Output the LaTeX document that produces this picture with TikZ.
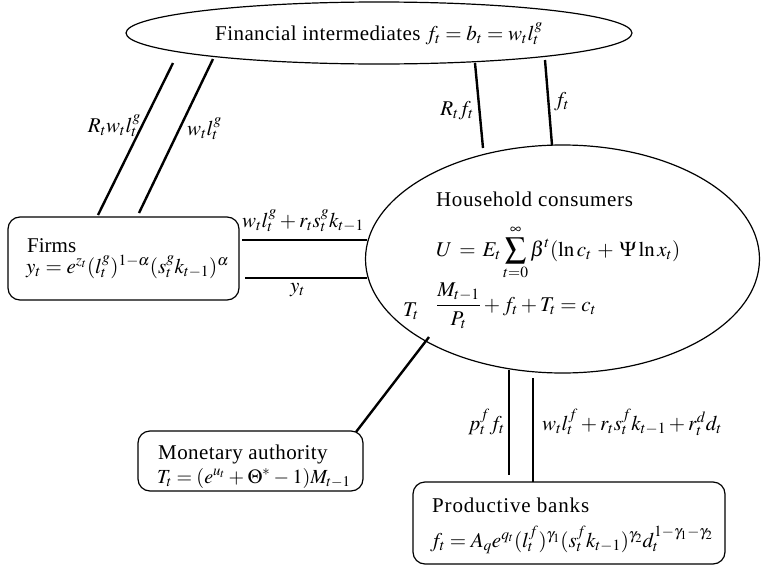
\documentclass[tikz,border=0pt]{standalone}
\usepackage{mathptmx}
\usepackage[no-math]{fontspec}
\setmainfont{Liberation Serif}
\usetikzlibrary{shapes.geometric}
\tikzset{
  shapeline/.style={draw=black, line width=1.2pt},
  conn/.style={draw=black, line width=2.4pt},
  txt/.style={anchor=base west, inner sep=0pt, font=\fontsize{21}{25}\selectfont},
  txtr/.style={anchor=base east, inner sep=0pt, font=\fontsize{21}{25}\selectfont},
  txtc/.style={anchor=base, inner sep=0pt, font=\fontsize{21}{25}\selectfont},
  roundbox/.style={shapeline, rectangle, rounded corners=12pt, inner sep=0pt},
  ellnode/.style={shapeline, ellipse, inner sep=0pt}
}
\begin{document}
\begin{tikzpicture}[x=1pt, y=-1pt]
\useasboundingbox (0,0) rectangle (761,568);
% shapes
\node[ellnode, minimum width=506pt, minimum height=62pt] (fin) at (379,33) {};
\node[ellnode, minimum width=394pt, minimum height=228pt] (house) at (562.5,259) {};
\node[roundbox, minimum width=231pt, minimum height=83pt] (firms) at (123.5,258.5) {};
\node[roundbox, minimum width=225pt, minimum height=60pt] (mon) at (250.5,461) {};
\node[roundbox, minimum width=312pt, minimum height=82pt] (banks) at (569,523) {};
% texts
\node[txtc] (fintxt) at (379,40) {{\addfontfeature{LetterSpace=2}Financial intermediates} $f_t = b_t = w_t l_t^g$};
\node[txt] (firmstxt) at (27,252) {Firms};
\node[txt] (firmseq) at (26,273) {$y_t = e^{z_t}(l_t^g)^{1-\alpha}(s_t^g k_{t-1})^{\alpha}$};
\node[txt] (housetxt) at (436,206) {\addfontfeature{LetterSpace=3}Household consumers};
\node[txt] (houseeq1) at (436,256) {$\thickmuskip=6mu\medmuskip=5mu\displaystyle U = E_t \sum_{t=0}^{\infty} \beta^t (\ln c_t + \Psi \ln x_t)$};
\node[txt] (houseeq2) at (436,311) {$\displaystyle \frac{M_{t-1}}{P_t} + f_t + T_t = c_t$};
\node[txt] (montxt) at (158,459) {\addfontfeature{LetterSpace=2}Monetary authority};
\node[txt, font=\fontsize{20}{24}\selectfont] (moneq) at (157,483) {$\thickmuskip=4mu\medmuskip=3mu T_t = (e^{u_t} + \Theta^* - 1) M_{t-1}$};
\node[txt] (bankstxt) at (432,512) {\addfontfeature{LetterSpace=4}Productive banks};
\node[txt] (bankseq) at (430,547) {$f_t = A_q e^{q_t} (l_t^f)^{\gamma_1} (s_t^f k_{t-1})^{\gamma_2} d_t^{1-\gamma_1-\gamma_2}$};
% connector end points
\coordinate (fwa1) at (98,215);  \coordinate (fwb1) at (173,63);
\coordinate (fwa2) at (139,213); \coordinate (fwb2) at (213,59);
\coordinate (fha1) at (475,63);  \coordinate (fhb1) at (483,148);
\coordinate (fha2) at (545,60);  \coordinate (fhb2) at (552,145);
\coordinate (hfa1) at (242,240); \coordinate (hfb1) at (367,240);
\coordinate (hfa2) at (245,278); \coordinate (hfb2) at (367,278);
\coordinate (mha) at (356,432);  \coordinate (mhb) at (429,337);
\coordinate (hba1) at (509,370); \coordinate (hbb1) at (509,475);
\coordinate (hba2) at (533,378); \coordinate (hbb2) at (533,482);
% connectors
\draw[conn] (fwa1) -- (fwb1);
\draw[conn] (fwa2) -- (fwb2);
\draw[conn] (fha1) -- (fhb1);
\draw[conn] (fha2) -- (fhb2);
\draw[conn] (hfa1) -- (hfb1);
\draw[conn] (hfa2) -- (hfb2);
\draw[conn] (mha) -- (mhb);
\draw[conn] (hba1) -- (hbb1);
\draw[conn] (hba2) -- (hbb2);
% labels
\node[txtr] (l1) at (141,132) {$R_t w_t l_t^g$};
\node[txt] (l2) at (187,135) {$w_t l_t^g$};
\node[txtr] (l3) at (474,115) {$R_t f_t$};
\node[txt] (l4) at (554,106) {$f_t$};
\node[txt] (l5) at (242,227) {$w_t l_t^g + r_t s_t^g k_{t-1}$};
\node[txt] (l6) at (290,292) {$y_t$};
\node[txt] (l7) at (403,316) {$T_t$};
\node[txtr] (l8) at (505,430) {$p_t^f f_t$};
\node[txt] (l9) at (542,430) {$w_t l_t^f + r_t s_t^f k_{t-1} + r_t^d d_t$};
\end{tikzpicture}
\end{document}
